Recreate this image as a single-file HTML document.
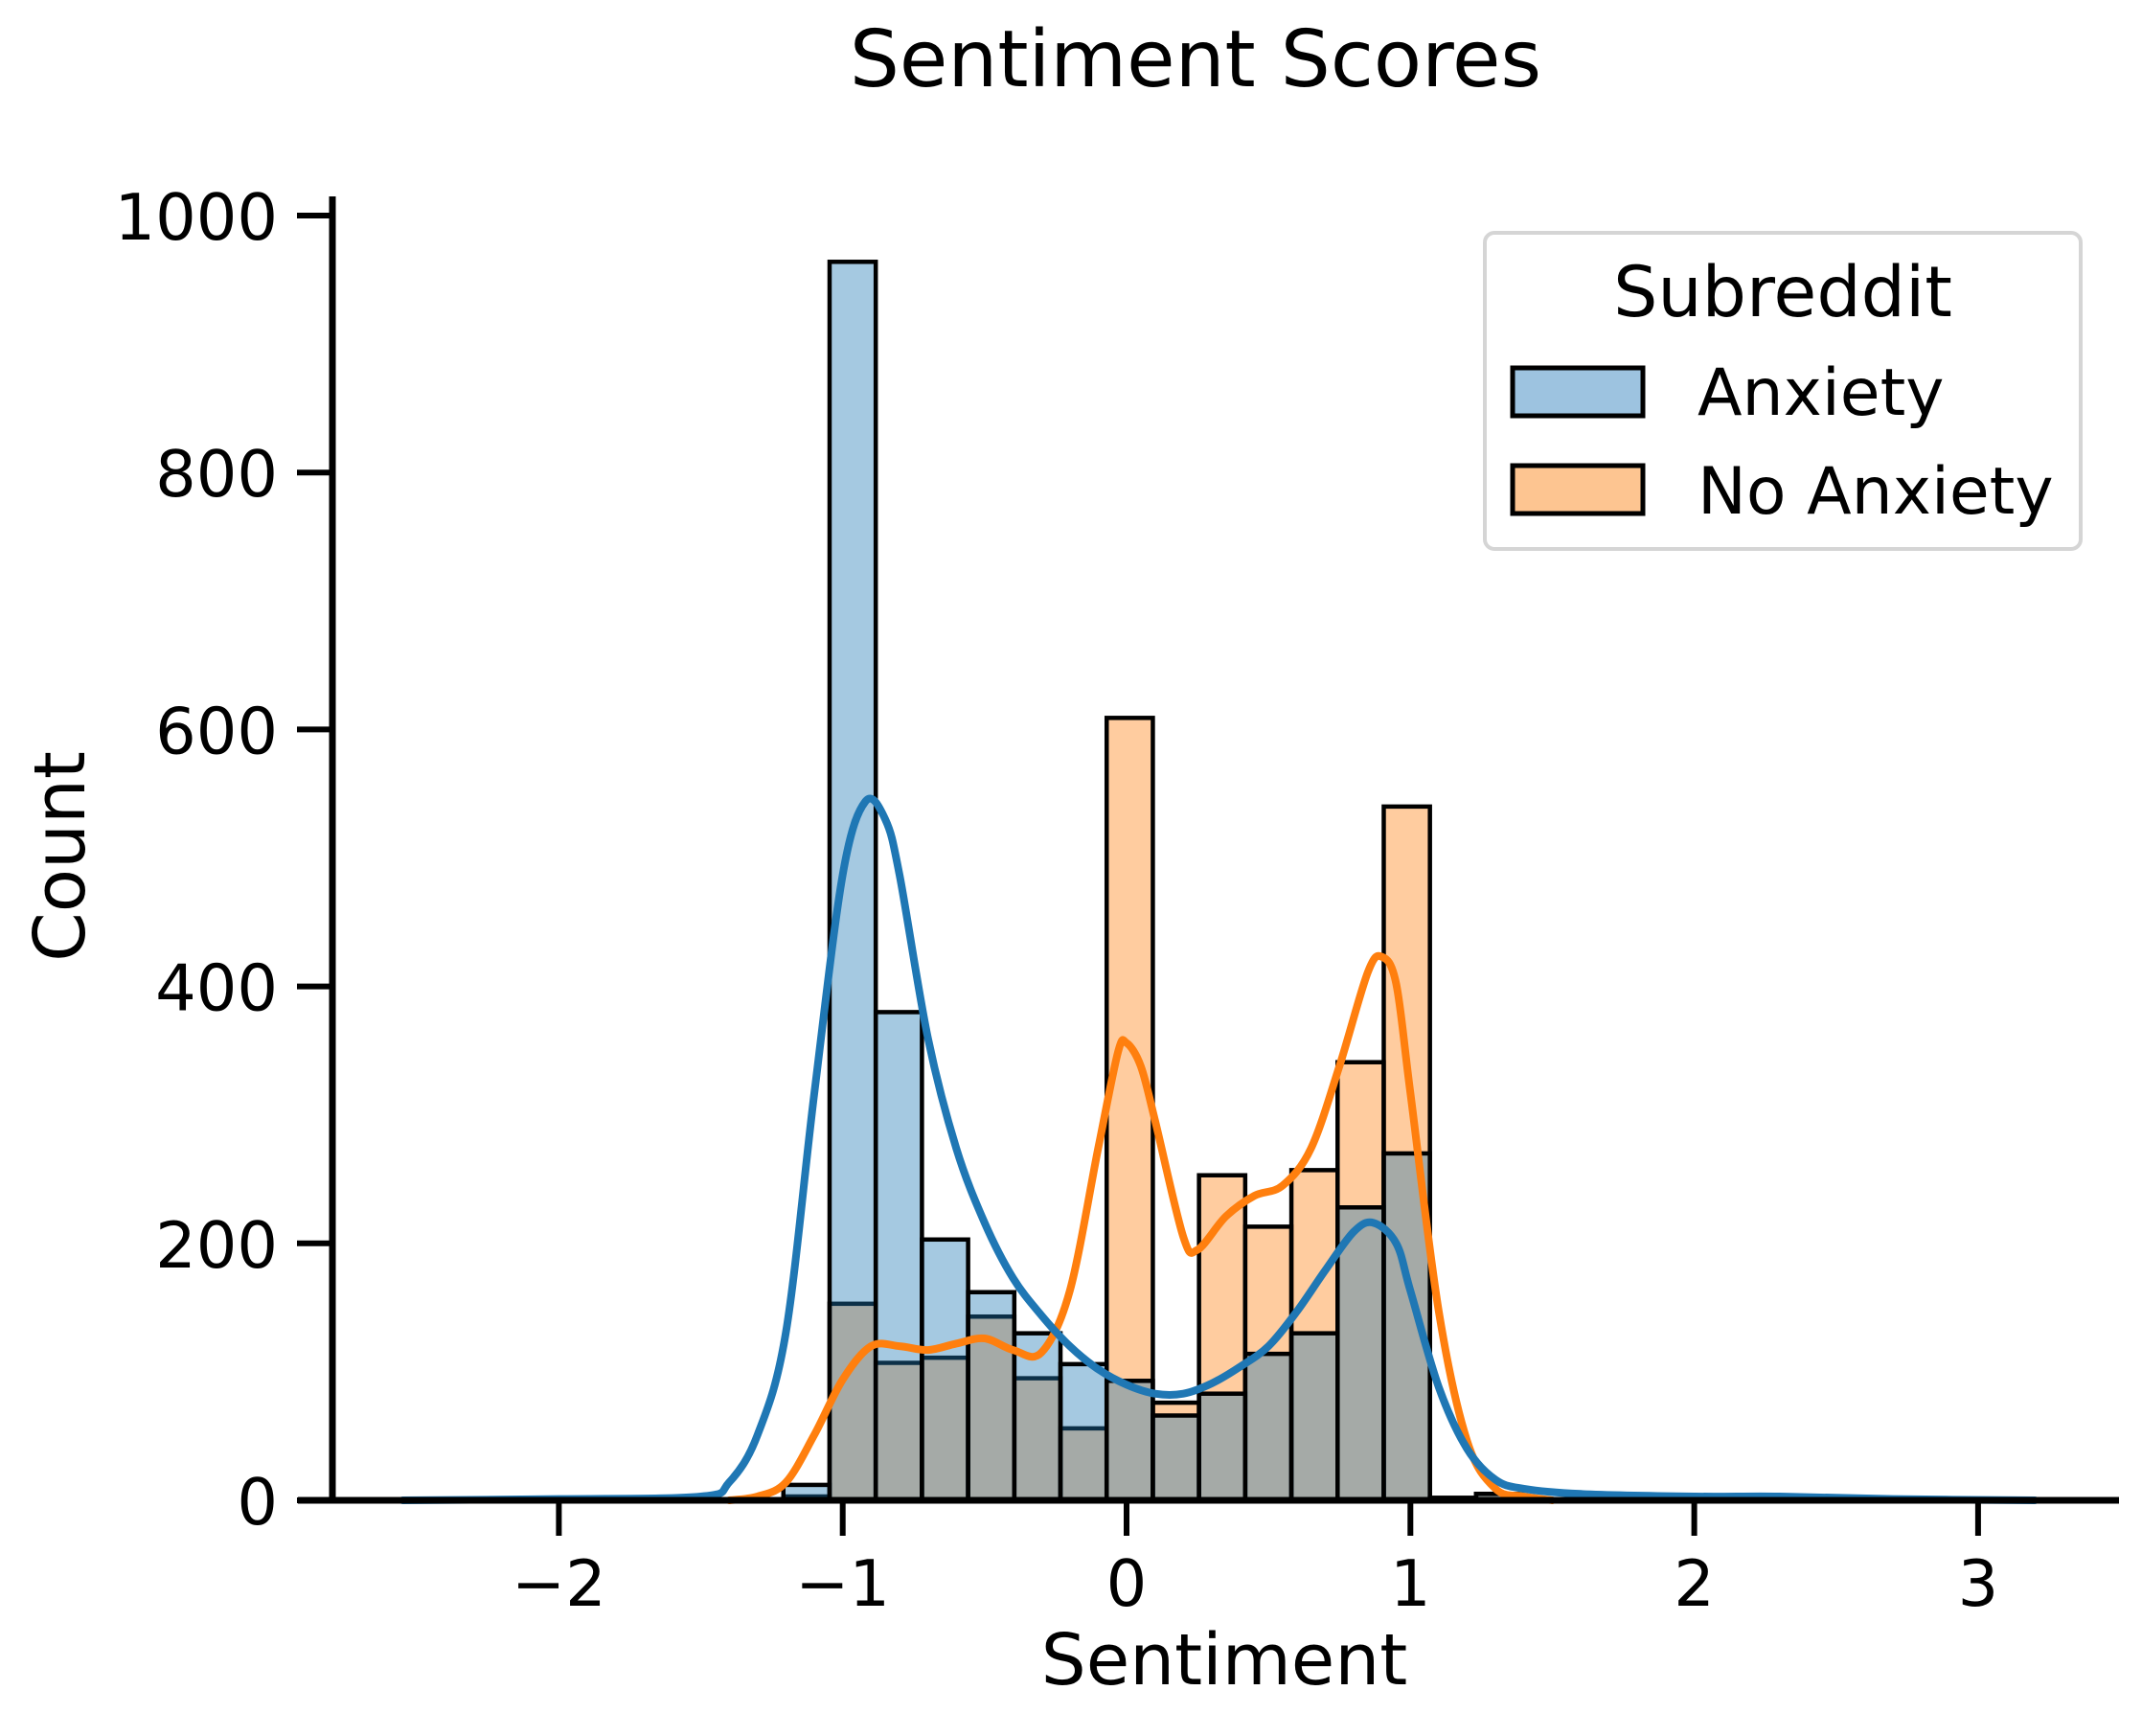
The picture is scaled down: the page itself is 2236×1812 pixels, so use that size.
<!DOCTYPE html>
<html><head><meta charset="utf-8"><style>
html,body{margin:0;padding:0;background:#fff;}
svg text{font-family:"DejaVu Sans","Liberation Sans",sans-serif;fill:#000;}
</style></head><body>
<svg id="chart" width="2236" height="1807" viewBox="0 0 2236 1807" xmlns="http://www.w3.org/2000/svg">
<rect width="2236" height="1807" fill="#fff"/>
<text x="1248" y="90" font-size="82" text-anchor="middle">Sentiment Scores</text>
<g id="bars"></g>
<g id="kde"></g>
<g id="axes"></g>
<text x="1278" y="1758" font-size="74" text-anchor="middle">Sentiment</text>
<text x="0" y="0" font-size="74" text-anchor="middle" transform="translate(88,894) rotate(-90)">Count</text>
<g>
<rect x="1550" y="243" width="622" height="330" rx="10" fill="#fff" stroke="#d5d5d5" stroke-width="4"/>
<text x="1861" y="330" font-size="73" text-anchor="middle">Subreddit</text>
<rect x="1579" y="384" width="136" height="50" fill="#9dc3e0" stroke="#000" stroke-width="5"/>
<text x="1772" y="433" font-size="68">Anxiety</text>
<rect x="1579" y="486" width="136" height="50" fill="#fdc591" stroke="#000" stroke-width="5"/>
<text x="1772" y="536" font-size="68">No Anxiety</text>
</g>
</svg>
<script>
const binStart = -1.209;
const binWidth = 0.1627;
const anxietyCounts = [12, 964, 380, 203, 162, 130, 106, 93, 66, 83, 114, 130, 228, 270, 2, 5];
const noAnxietyCounts = [3, 153, 107, 111, 143, 95, 56, 609, 76, 253, 213, 257, 341, 540, 0, 5];
const xTicks = [-2, -1, 0, 1, 2, 3];
const xTickLabels = ["\u22122", "\u22121", "0", "1", "2", "3"];
const yTicks = [0, 200, 400, 600, 800, 1000];
const kdeAnxX = [-2.55,-2.0,-1.5,-1.4,-1.3,-1.2,-1.1,-1.0,-0.92,-0.85,-0.8,-0.7,-0.6,-0.5,-0.4,-0.3,-0.2,-0.1,0,0.1,0.2,0.3,0.4,0.5,0.6,0.7,0.8,0.87,0.95,1.0,1.1,1.2,1.3,1.4,1.6,2.0,2.3,2.7,3.2];
const kdeAnxY = [0,1,3,14,51,131,317,487,544,530,487,360,274,216,173,144,120,102,90,83,83,91,104,120,147,179,209,216,200,163,88,40,16,9,5,3,3,1,0];
const kdeNoX = [-1.4,-1.3,-1.2,-1.1,-1.0,-0.9,-0.8,-0.7,-0.6,-0.5,-0.4,-0.3,-0.2,-0.1,-0.03,0,0.05,0.1,0.2,0.25,0.35,0.45,0.55,0.65,0.75,0.85,0.9,0.95,1.0,1.1,1.2,1.3,1.4,1.5];
const kdeNoY = [0,3,14,51,94,120,120,117,122,126,117,115,163,274,349,356,338,296,205,195,221,237,245,274,338,411,423,402,317,147,46,9,3,0];

const X0 = 1176, XU = 296.3, Y0 = 1566, YU = 1.341;
const sx = v => X0 + v * XU;
const sy = v => Y0 - v * YU;
const NS = "http://www.w3.org/2000/svg";
function mk(tag, attrs, parent){const e=document.createElementNS(NS,tag);for(const k in attrs)e.setAttribute(k,attrs[k]);parent.appendChild(e);return e;}

const bars = document.getElementById('bars');
function drawBars(counts, color, name){
  counts.forEach((c,i)=>{
    if(c<=0) return;
    const x1=sx(binStart+i*binWidth), x2=sx(binStart+(i+1)*binWidth);
    const r=mk('rect',{x:x1,y:sy(c),width:x2-x1,height:Y0-sy(c),fill:color,'fill-opacity':0.4,stroke:'#000','stroke-width':4.5},bars);
    
    
  });
}
drawBars(noAnxietyCounts,'#ff7f0e','no-anxiety');
drawBars(anxietyCounts,'#1f77b4','anxiety');

const kde = document.getElementById('kde');
function pathFor(xs, ys){
  const p=xs.map((x,i)=>[sx(x),sy(ys[i])]);
  let d='M'+p[0][0]+','+p[0][1];
  for(let i=0;i<p.length-1;i++){
    const p0=p[i-1]||p[i],p1=p[i],p2=p[i+1],p3=p[i+2]||p2;
    const c1=[p1[0]+(p2[0]-p0[0])/6,p1[1]+(p2[1]-p0[1])/6];
    const c2=[p2[0]-(p3[0]-p1[0])/6,p2[1]-(p3[1]-p1[1])/6];
    d+=' C'+c1+' '+c2+' '+p2;
  }
  return d;
}
const l2=mk('path',{d:pathFor(kdeNoX,kdeNoY),fill:'none',stroke:'#ff7f0e','stroke-width':8,'stroke-linejoin':'round','stroke-linecap':'round'},kde);


const l1=mk('path',{d:pathFor(kdeAnxX,kdeAnxY),fill:'none',stroke:'#1f77b4','stroke-width':8,'stroke-linejoin':'round','stroke-linecap':'round'},kde);



const axes = document.getElementById('axes');
const ya=mk('line',{x1:347,y1:205,x2:347,y2:Y0+3,stroke:'#000','stroke-width':7},axes);


const xa=mk('line',{x1:311,y1:Y0,x2:2212,y2:Y0,stroke:'#000','stroke-width':7},axes);


yTicks.forEach(v=>{
  const t=mk('line',{x1:310,y1:sy(v),x2:347,y2:sy(v),stroke:'#000','stroke-width':6},axes);
  
  
  const tx=mk('text',{x:290,y:sy(v)+25,'font-size':67,'text-anchor':'end'},axes);
  tx.textContent=String(v);
  
  
});
xTicks.forEach((v,i)=>{
  const t=mk('line',{x1:sx(v),y1:Y0,x2:sx(v),y2:Y0+37,stroke:'#000','stroke-width':6},axes);
  
  
  const tx=mk('text',{x:sx(v),y:1676,'font-size':67,'text-anchor':'middle'},axes);
  tx.textContent=xTickLabels[i];
  
  
});
</script>
</body></html>
